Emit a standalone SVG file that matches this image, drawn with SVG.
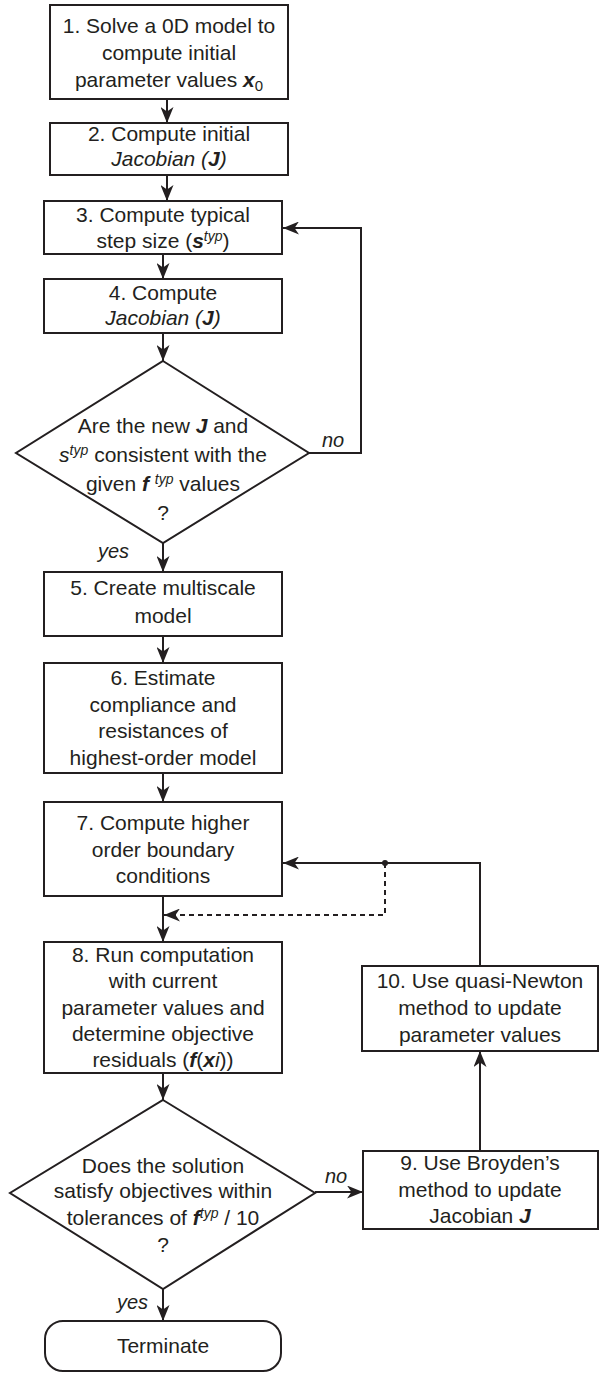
<svg xmlns="http://www.w3.org/2000/svg" width="599" height="1373" viewBox="0 0 599 1373">
<defs>
<marker id="ah" markerUnits="userSpaceOnUse" viewBox="0 0 16 13" refX="16" refY="6.5" markerWidth="16" markerHeight="13" orient="auto">
<path d="M0,0 L16,6.5 L0,13 L4.5,6.5 Z" fill="#231f20"/>
</marker>
<style>
.box{fill:#fff;stroke:#231f20;stroke-width:2}
.t{font-family:"Liberation Sans",Arial,sans-serif;font-size:21px;fill:#231f20;text-anchor:middle}
.l{font-family:"Liberation Sans",Arial,sans-serif;font-size:20px;fill:#231f20;font-style:italic}
.i{font-style:italic}
.bi{font-style:italic;font-weight:bold}
.sup{font-size:14px;font-style:italic}
.c{fill:none;stroke:#231f20;stroke-width:2}
.a{marker-end:url(#ah)}
.d{stroke-dasharray:5,4}
</style>
</defs>
<g id="connectors">
<path class="c a" d="M167,99 V123"/>
<path class="c a" d="M167,175 V201"/>
<path class="c a" d="M163,254 V279"/>
<path class="c a" d="M163,333 V361"/>
<path class="c a" d="M309,453 H361 V228 H283"/>
<path class="c a" d="M163,543 V572"/>
<path class="c a" d="M163,636 V663"/>
<path class="c a" d="M163,773 V802"/>
<path class="c a" d="M163,896 V942"/>
<path class="c a" d="M480,966 V863 H283"/>
<path class="c a d" d="M385,863 V915 H164"/>
<circle cx="385" cy="863" r="3" fill="#231f20"/>
<path class="c a" d="M163,1073 V1100"/>
<path class="c a" d="M315,1192 H363"/>
<path class="c a" d="M480,1151 V1051"/>
<path class="c a" d="M163,1289 V1321"/>
<text class="l" x="322" y="447">no</text>
<text class="l" x="98" y="558">yes</text>
<text class="l" x="325" y="1183">no</text>
<text class="l" x="117" y="1309">yes</text>
</g>
<g id="n1">
<rect class="box" x="50" y="5" width="238" height="94"/>
<text class="t" x="169" y="33">1. Solve a 0D model to</text>
<text class="t" x="169" y="60">compute initial</text>
<text class="t" x="169" y="87">parameter values <tspan class="bi">x</tspan><tspan font-size="15" dy="4">0</tspan></text>
</g>
<g id="n2">
<rect class="box" x="50" y="123" width="238" height="52"/>
<text class="t" x="169" y="141">2. Compute initial</text>
<text class="t" x="169" y="166"><tspan class="i">Jacobian (</tspan><tspan class="bi">J</tspan><tspan class="i">)</tspan></text>
</g>
<g id="n3">
<rect class="box" x="44" y="201" width="238" height="53"/>
<text class="t" x="163" y="222">3. Compute typical</text>
<text class="t" x="163" y="248">step size (<tspan class="bi">s</tspan><tspan class="sup" dy="-7">typ</tspan><tspan dy="7">)</tspan></text>
</g>
<g id="n4">
<rect class="box" x="44" y="279" width="238" height="54"/>
<text class="t" x="163" y="300">4. Compute</text>
<text class="t" x="163" y="325"><tspan class="i">Jacobian (</tspan><tspan class="bi">J</tspan><tspan class="i">)</tspan></text>
</g>
<g id="d1">
<polygon class="box" points="163,361 309,453 163,543 16,453"/>
<text class="t" x="163" y="433">Are the new <tspan class="bi">J</tspan> and</text>
<text class="t" x="163" y="462"><tspan class="i">s</tspan><tspan class="sup" dy="-7">typ</tspan><tspan dy="7"> consistent with the</tspan></text>
<text class="t" x="163" y="491">given <tspan class="bi">f</tspan> <tspan class="sup" dy="-7">typ</tspan><tspan dy="7"> values</tspan></text>
<text class="t" x="163" y="520">?</text>
</g>
<g id="n5">
<rect class="box" x="44" y="572" width="238" height="64"/>
<text class="t" x="163" y="595">5. Create multiscale</text>
<text class="t" x="163" y="623">model</text>
</g>
<g id="n6">
<rect class="box" x="44" y="663" width="238" height="110"/>
<text class="t" x="163" y="685">6. Estimate</text>
<text class="t" x="163" y="712">compliance and</text>
<text class="t" x="163" y="738">resistances of</text>
<text class="t" x="163" y="765">highest-order model</text>
</g>
<g id="n7">
<rect class="box" x="44" y="802" width="238" height="94"/>
<text class="t" x="163" y="830">7. Compute higher</text>
<text class="t" x="163" y="857">order boundary</text>
<text class="t" x="163" y="883">conditions</text>
</g>
<g id="n8">
<rect class="box" x="44" y="942" width="238" height="131"/>
<text class="t" x="163" y="962">8. Run computation</text>
<text class="t" x="163" y="988">with current</text>
<text class="t" x="163" y="1015">parameter values and</text>
<text class="t" x="163" y="1041">determine objective</text>
<text class="t" x="163" y="1067">residuals (<tspan class="bi">f</tspan>(<tspan class="bi">x</tspan><tspan class="i">i</tspan>))</text>
</g>
<g id="d2">
<polygon class="box" points="163,1100 315,1193 163,1289 10,1193"/>
<text class="t" x="163" y="1173">Does the solution</text>
<text class="t" x="163" y="1198">satisfy objectives within</text>
<text class="t" x="163" y="1225">tolerances of <tspan class="bi">f</tspan><tspan class="sup" dy="-7">typ</tspan><tspan dy="7"> / 10</tspan></text>
<text class="t" x="163" y="1252">?</text>
</g>
<g id="n9">
<rect class="box" x="363" y="1151" width="235" height="78"/>
<text class="t" x="480" y="1170">9. Use Broyden’s</text>
<text class="t" x="480" y="1197">method to update</text>
<text class="t" x="480" y="1223">Jacobian <tspan class="bi">J</tspan></text>
</g>
<g id="n10">
<rect class="box" x="362" y="966" width="236" height="85"/>
<text class="t" x="480" y="988">10. Use quasi-Newton</text>
<text class="t" x="480" y="1015">method to update</text>
<text class="t" x="480" y="1042">parameter values</text>
</g>
<g id="term">
<rect class="box" x="45" y="1321" width="236" height="50" rx="18" ry="18"/>
<text class="t" x="163" y="1353">Terminate</text>
</g>
</svg>
